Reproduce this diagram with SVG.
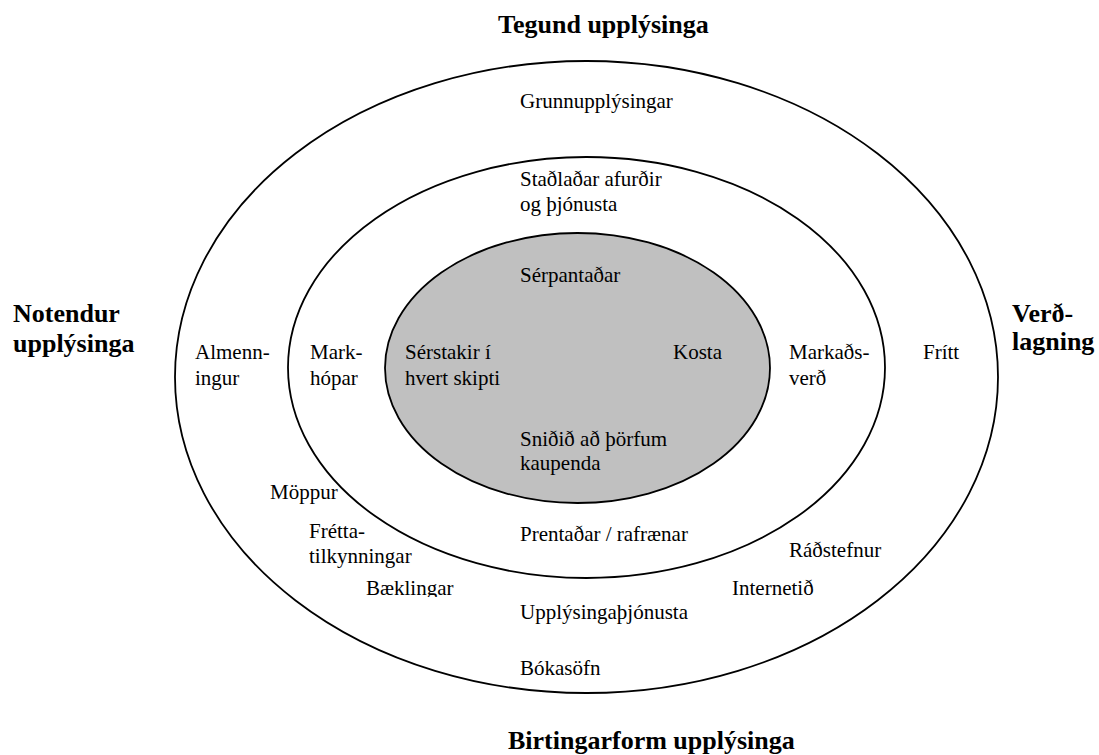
<svg xmlns="http://www.w3.org/2000/svg" width="1099" height="755" viewBox="0 0 1099 755" font-family="'Liberation Serif', Tinos, 'Times New Roman', 'DejaVu Serif', serif">
  <style>
    .ring { fill: none; stroke: #000; stroke-width: 1.8; }
    .core { fill: #c0c0c0; stroke: #000; stroke-width: 1.8; }
    .t { font-size: 21px; fill: #000; }
    .h { font-size: 26px; font-weight: bold; fill: #000; }
  </style>
  <defs>
    <clipPath id="clipBaek">
      <rect x="350" y="570" width="150" height="27"/>
    </clipPath>
  </defs>
  <rect width="1099" height="755" fill="#fff"/>

  <g id="outer-ring">
    <ellipse class="ring" cx="586.5" cy="377" rx="411.5" ry="316"/>
  </g>
  <g id="middle-ring">
    <ellipse class="ring" cx="586.5" cy="367.5" rx="298.5" ry="210.5"/>
  </g>
  <g id="inner-core">
    <ellipse class="core" cx="577.5" cy="368" rx="192.5" ry="135"/>
  </g>

  <g id="connectors"></g>

  <g id="axis-labels" font-family="'Liberation Serif', serif">
    <text class="h" x="498" y="33">Tegund upplýsinga</text>
    <text class="h" x="508" y="749">Birtingarform upplýsinga</text>
    <text class="h" x="13" y="322">Notendur</text>
    <text class="h" x="13" y="352">upplýsinga</text>
    <text class="h" x="1012" y="322">Verð-</text>
    <text class="h" x="1012" y="350">lagning</text>
  </g>

  <g id="outer-labels" font-family="'Liberation Serif', serif">
    <text class="t" x="520" y="108">Grunnupplýsingar</text>
    <text class="t" x="195" y="359">Almenn-</text>
    <text class="t" x="195" y="385">ingur</text>
    <text class="t" x="923" y="359">Frítt</text>
    <text class="t" x="270" y="499">Möppur</text>
    <text class="t" x="309" y="538">Frétta-</text>
    <text class="t" x="309" y="563">tilkynningar</text>
    <text class="t" x="366" y="595" clip-path="url(#clipBaek)">Bæklingar</text>
    <text class="t" x="789" y="557">Ráðstefnur</text>
    <text class="t" x="732" y="595">Internetið</text>
    <text class="t" x="520" y="619">Upplýsingaþjónusta</text>
    <text class="t" x="520" y="675">Bókasöfn</text>
  </g>

  <g id="middle-labels" font-family="'Liberation Serif', serif">
    <text class="t" x="520" y="186">Staðlaðar afurðir</text>
    <text class="t" x="520" y="211">og þjónusta</text>
    <text class="t" x="310" y="359">Mark-</text>
    <text class="t" x="310" y="385">hópar</text>
    <text class="t" x="789" y="359">Markaðs-</text>
    <text class="t" x="789" y="385">verð</text>
    <text class="t" x="520" y="541">Prentaðar / rafrænar</text>
  </g>

  <g id="core-labels" font-family="'Liberation Serif', serif">
    <text class="t" x="520" y="282">Sérpantaðar</text>
    <text class="t" x="405" y="359">Sérstakir í</text>
    <text class="t" x="405" y="385">hvert skipti</text>
    <text class="t" x="673" y="359">Kosta</text>
    <text class="t" x="520" y="446">Sniðið að þörfum</text>
    <text class="t" x="520" y="470">kaupenda</text>
  </g>
</svg>
